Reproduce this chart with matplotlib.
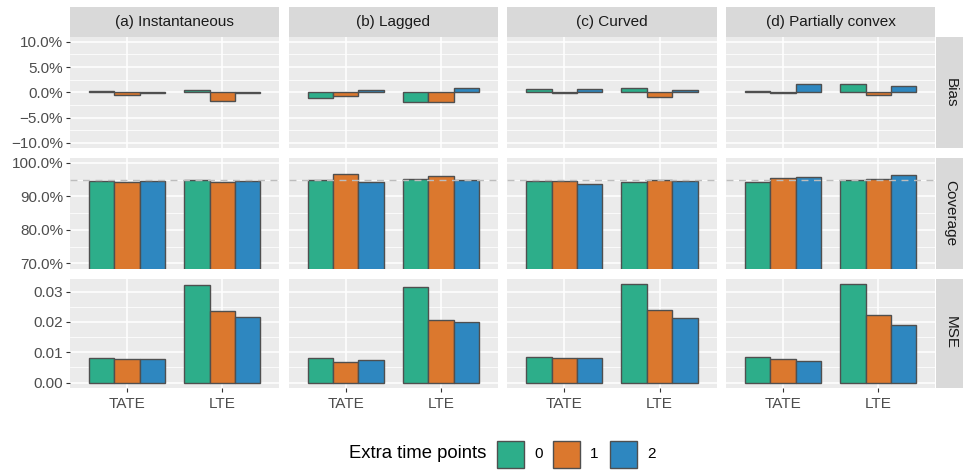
import numpy as np
import matplotlib
matplotlib.use("Agg")
import matplotlib.pyplot as plt
from matplotlib.ticker import PercentFormatter, FixedLocator, FormatStrFormatter
from matplotlib.patches import Rectangle

plt.rcParams['font.family'] = ['Liberation Sans', 'DejaVu Sans']

# ---- data ----
scenarios = ['(a) Instantaneous', '(b) Lagged', '(c) Curved', '(d) Partially convex']
estimands = ['TATE', 'LTE']
extra_points = ['0', '1', '2']
metrics = ['Bias', 'Coverage', 'MSE']

# rows: TATE, LTE ; columns: extra time points 0, 1, 2
bias_a = [[0.0027, -0.0054, -0.0005], [0.0047, -0.0176, -0.0010]]
bias_b = [[-0.0120, -0.0080, 0.0050], [-0.0200, -0.0200, 0.0080]]
bias_c = [[0.0068, -0.0003, 0.0068], [0.0095, -0.0100, 0.0040]]
bias_d = [[0.0030, -0.0010, 0.0170], [0.0170, -0.0050, 0.0120]]

cov_a = [[0.946, 0.944, 0.946], [0.949, 0.944, 0.946]]
cov_b = [[0.948, 0.966, 0.942], [0.952, 0.961, 0.948]]
cov_c = [[0.945, 0.946, 0.936], [0.944, 0.949, 0.945]]
cov_d = [[0.943, 0.955, 0.957], [0.950, 0.951, 0.963]]

mse_a = [[0.0082, 0.0079, 0.0079], [0.0320, 0.0235, 0.0217]]
mse_b = [[0.0082, 0.0067, 0.0074], [0.0315, 0.0206, 0.0201]]
mse_c = [[0.0083, 0.0080, 0.0080], [0.0326, 0.0238, 0.0212]]
mse_d = [[0.0083, 0.0076, 0.0072], [0.0324, 0.0223, 0.0190]]

data = {
    'Bias': [bias_a, bias_b, bias_c, bias_d],
    'Coverage': [cov_a, cov_b, cov_c, cov_d],
    'MSE': [mse_a, mse_b, mse_c, mse_d],
}
nominal_coverage = 0.95

colors = ['#2DAE8A', '#DB782E', '#2E87C0']
edge = '#4F4F4F'
panel_bg = '#EBEBEB'
strip_bg = '#D9D9D9'

W, H = 963, 472
fig = plt.figure(figsize=(W / 100, H / 100), dpi=100)


def rect(x0, y0, x1, y1):
    return [x0 / W, 1 - y1 / H, (x1 - x0) / W, (y1 - y0) / H]


col_x = [70, 288.7, 507.3, 726]
pw = 209.3
row_y = [(36.7, 148), (157.7, 268.5), (278.5, 387.5)]
strip_h = 29.4

ylims = {'Bias': (-0.11, 0.11), 'Coverage': (0.685, 1.015), 'MSE': (-0.00163, 0.0343)}
majors = {'Bias': np.arange(-0.10, 0.101, 0.05), 'Coverage': np.arange(0.70, 1.001, 0.10),
          'MSE': np.arange(0, 0.031, 0.01)}
minors = {'Bias': np.arange(-0.075, 0.08, 0.05), 'Coverage': np.arange(0.75, 0.96, 0.10),
          'MSE': np.arange(0.005, 0.036, 0.01)}

bw = 0.8 / 3
xpos = np.arange(1, len(estimands) + 1)

for r, metric in enumerate(metrics):
    y0, y1 = row_y[r]
    for c, scen in enumerate(scenarios):
        ax = fig.add_axes(rect(col_x[c], y0, col_x[c] + pw, y1))
        ax.set_facecolor(panel_bg)
        for s in ax.spines.values():
            s.set_visible(False)
        vals = np.array(data[metric][c])
        for k in range(len(extra_points)):
            ax.bar(xpos + (k - 1) * bw, vals[:, k], width=bw, color=colors[k],
                   edgecolor=edge, linewidth=1.0, zorder=3)
        if metric == 'Coverage':
            ax.axhline(nominal_coverage, color='#BDBDBD', lw=1.0, ls=(0, (5, 4)), zorder=4)
        ax.set_xlim(0.4, 2.6)
        ax.set_ylim(*ylims[metric])
        ax.yaxis.set_major_locator(FixedLocator(majors[metric]))
        ax.yaxis.set_minor_locator(FixedLocator(minors[metric]))
        ax.set_xticks(xpos)
        ax.grid(which='major', color='white', lw=1.1, zorder=0)
        ax.grid(which='minor', axis='y', color='white', lw=0.55, zorder=0)
        ax.set_axisbelow(True)
        ax.tick_params(which='minor', length=0)
        ax.tick_params(which='major', length=3, color='#333333', width=0.8,
                       labelsize=11, labelcolor='#4D4D4D', pad=2)
        ax.tick_params(axis='x', pad=4)
        if metric in ('Bias', 'Coverage'):
            ax.yaxis.set_major_formatter(PercentFormatter(1.0, decimals=1))
        else:
            ax.yaxis.set_major_formatter(FormatStrFormatter('%.2f'))
        if c != 0:
            ax.tick_params(axis='y', left=False, labelleft=False)
        if r != len(metrics) - 1:
            ax.tick_params(axis='x', bottom=False, labelbottom=False)
        else:
            ax.set_xticklabels(estimands)

        # top strips
        if r == 0:
            sax = fig.add_axes(rect(col_x[c], y0 - strip_h, col_x[c] + pw, y0))
            sax.set_facecolor(strip_bg)
            sax.set_xticks([]); sax.set_yticks([])
            for s in sax.spines.values():
                s.set_visible(False)
            sax.text(0.5, 0.5, scen, ha='center', va='center', fontsize=11,
                     color='#1A1A1A', transform=sax.transAxes)
    # right strips
    rax = fig.add_axes(rect(col_x[-1] + pw + 0.7, y0, col_x[-1] + pw + 0.7 + strip_h, y1))
    rax.set_facecolor(strip_bg)
    rax.set_xticks([]); rax.set_yticks([])
    for s in rax.spines.values():
        s.set_visible(False)
    rax.text(0.5, 0.5, metric, ha='center', va='center', rotation=-90, fontsize=11,
             color='#1A1A1A', transform=rax.transAxes)

# legend
ly = 454
fig.text(349 / W, 1 - ly / H, 'Extra time points', fontsize=13.3, color='black',
         ha='left', va='center')
key_x = [497, 553, 610]
ks = 27
for k, lab in enumerate(extra_points):
    fig.add_artist(Rectangle((key_x[k] / W, 1 - (ly + ks / 2) / H), ks / W, ks / H,
                             transform=fig.transFigure, facecolor=colors[k],
                             edgecolor=edge, linewidth=1.0))
    fig.text((key_x[k] + ks + 10) / W, 1 - ly / H, lab, fontsize=11, color='black',
             ha='left', va='center')

fig.savefig('out.png', dpi=100)
